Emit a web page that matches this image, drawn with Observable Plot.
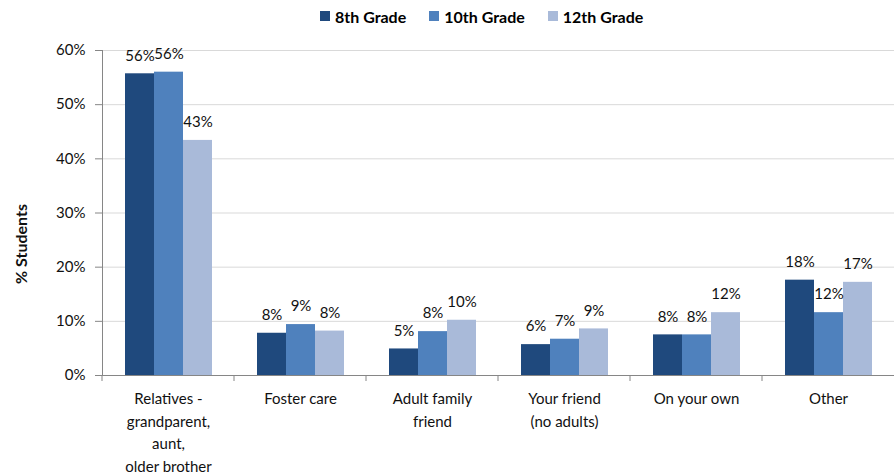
<!DOCTYPE html>
<html><head><meta charset="utf-8">
<script src="https://cdn.jsdelivr.net/npm/d3@7"></script>
<script src="https://cdn.jsdelivr.net/npm/@observablehq/plot@0.6"></script>
<style>
body{margin:0;background:#fff;font-family:Lato,sans-serif;}
#legendwrap{height:32px;display:flex;align-items:center;padding-left:320px;box-sizing:border-box;overflow:hidden;}
#legendwrap > div{min-height:0 !important;margin:0 !important;}
.lg-swatch{margin-right:23px !important;}
.lg-swatch > svg{margin-right:5px !important;}
</style></head><body>
<div id="legendwrap"></div>
<div id="chart"></div>
<script>
const categories = ["Relatives -\ngrandparent,\naunt,\nolder brother", "Foster care", "Adult family\nfriend", "Your friend\n(no adults)", "On your own", "Other"];
const grades = ["8th Grade", "10th Grade", "12th Grade"];
const colors = ["#1F497D", "#4F81BD", "#A9BAD9"];
const grade8 = [55.7, 7.8, 4.9, 5.7, 7.5, 17.6];
const grade10 = [56.0, 9.4, 8.1, 6.7, 7.5, 11.6];
const grade12 = [43.4, 8.2, 10.2, 8.6, 11.6, 17.2];
const yTicks = [0, 10, 20, 30, 40, 50, 60];
const yLabel = "% Students";

const series = [grade8, grade10, grade12];
const data = categories.flatMap((c, i) => grades.map((g, j) => ({category: c, grade: g, value: series[j][i]})));

const legend = Plot.legend({
  color: {type: "ordinal", domain: grades, range: colors},
  legend: "swatches",
  swatchSize: 10,
  className: "lg",
  style: {fontFamily: "Lato, sans-serif", fontSize: "16px", fontWeight: "bold", color: "#000"}
});
document.getElementById("legendwrap").append(legend);

function categoryTicks(index, scales, values, dimensions) {
  const r = scales.x && scales.x.range ? scales.x.range() : [dimensions.marginLeft];
  const x0 = Math.min(...r);
  const y0 = scales.y(0);
  const g = d3.create("svg:g");
  g.append("line").attr("x1", x0).attr("x2", x0).attr("y1", y0).attr("y2", y0 + 6).attr("stroke", "#868686");
  return g.node();
}

const chart = Plot.plot({
  width: 896,
  height: 442,
  marginLeft: 99,
  marginRight: 0,
  marginTop: 18,
  marginBottom: 99,
  style: {fontFamily: "Lato, sans-serif", fontSize: "15px", background: "#fff", color: "#111"},
  fx: {domain: categories, padding: 0, label: null},
  x: {domain: grades, paddingInner: 0, paddingOuter: 0.74, axis: null},
  y: {domain: [0, 60], label: null},
  color: {domain: grades, range: colors},
  marks: [
    Plot.gridY(yTicks, {stroke: "#d9d9d9", strokeOpacity: 1}),
    Plot.barY(data, {fx: "category", x: "grade", y: "value", fill: "grade"}),
    Plot.text(data, {fx: "category", x: "grade", y: "value", text: d => Math.round(d.value) + "%", dy: -18, fontSize: 15, fill: "#111"}),
    Plot.ruleY([0], {stroke: "#868686"}),
    Plot.frame({anchor: "left", facetAnchor: "left", stroke: "#868686"}),
    categoryTicks,
    Plot.axisY(yTicks, {tickFormat: d => d + "%", tickSize: 7, tickPadding: 10, stroke: "#868686", fill: "#111", fontSize: 15, label: null}),
    Plot.axisFx({anchor: "bottom", tickSize: 0, tickPadding: 13, lineHeight: 1.5, fontSize: 15, fill: "#111", label: null}),
    Plot.text([yLabel], {text: d => d, frameAnchor: "left", facetAnchor: "left", textAnchor: "middle", lineAnchor: "middle", rotate: -90, dx: -81, dy: 31, fontWeight: "bold", fontSize: 16, fill: "#111"})
  ]
});
document.getElementById("chart").append(chart);
</script></body></html>
